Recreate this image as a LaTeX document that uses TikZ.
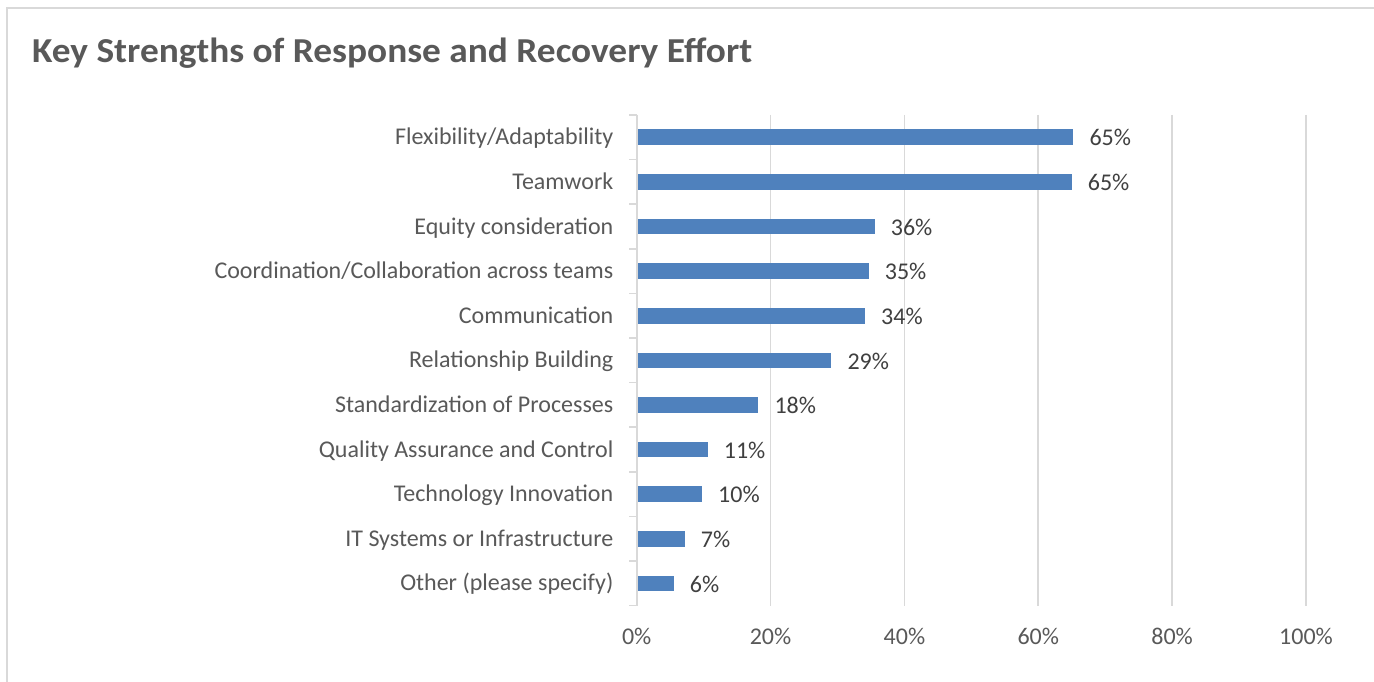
\documentclass[tikz,border=0pt]{standalone}
\usepackage{fontspec}
\setmainfont{Carlito}
\definecolor{grid}{HTML}{D9D9D9}
\definecolor{bar}{HTML}{4F81BD}
\definecolor{txt}{HTML}{595959}
\definecolor{val}{HTML}{404040}
\begin{document}
\begin{tikzpicture}[x=1pt,y=-1pt,
  gridline/.style={draw=grid,line width=1.6pt},
  barbox/.style={fill=bar,draw=none},
  catlabel/.style={anchor=base east,inner sep=0pt,text=txt,font=\fontsize{24}{28}\selectfont},
  vallabel/.style={anchor=base west,inner sep=0pt,text=val,font=\fontsize{24}{28}\selectfont},
  ticklabel/.style={anchor=base,inner sep=0pt,text=txt,font=\fontsize{24}{28}\selectfont},
  titlelabel/.style={anchor=base west,inner sep=0pt,text=txt,xscale=1.067,font=\fontsize{35}{40}\selectfont\bfseries}]
\useasboundingbox (0,0) rectangle (1374,682);
\fill[white] (0,0) rectangle (1374,682);
% frame
\draw[gridline] (7,700) -- (7,8) -- (1400,8);
\node[titlelabel] (title) at (32,62.3) {Key Strengths of Response and Recovery Effort};
% gridlines
\foreach \p in {20,40,60,80,100}{
  \draw[gridline] ({636.7+6.693*\p},115) -- ({636.7+6.693*\p},605.7);
}
\foreach \p in {0,20,40,60,80,100}{
  \node[ticklabel] (tick\p) at ({636.7+6.693*\p},644) {\p\%};
}
% bars
\foreach \e/\v [count=\i from 0] in {
  1073.3/65, 1071.7/65, 874.7/36, 868.7/35, 865/34, 831.3/29,
  758.3/18, 707.7/11, 702/10, 684.7/7, 673.7/6}{
  \pgfmathsetmacro{\yc}{137.3+44.6*\i}
  \path[barbox] (636.7,\yc-7.8) rectangle (\e,\yc+7.8);
  \node[vallabel] (val\i) at (\e+16,\yc+8.7) {\v\%};
}
% category labels
\foreach \lab [count=\i from 0] in {
  {Flexibility/Adaptability},
  {Teamwork},
  {Equity consideration},
  {Coordination/Collaboration across teams},
  {Communication},
  {Relationship Building},
  {Standardization of Processes},
  {Quality Assurance and Control},
  {Technology Innovation},
  {IT Systems or Infrastructure},
  {Other (please specify)}}{
  \node[catlabel] (cat\i) at (613.5,137.3+44.6*\i+7.5) {\lab};
}
% axis
\draw[gridline] (636.7,115) -- (636.7,605.7);
\foreach \i in {0,...,11}{
  \draw[gridline] (629,115+44.6*\i) -- (636.7,115+44.6*\i);
}
\end{tikzpicture}
\end{document}
